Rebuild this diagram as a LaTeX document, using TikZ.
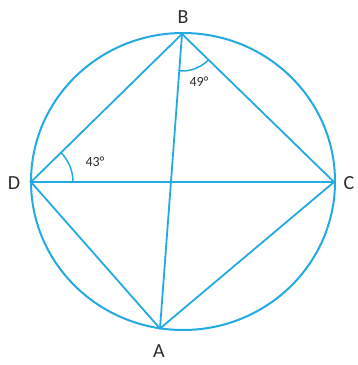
\documentclass[tikz,border=0pt]{standalone}
\usepackage{fontspec}
\setmainfont{Carlito}
\usetikzlibrary{calc}
\definecolor{geo}{RGB}{36,170,226}
\definecolor{lbl}{RGB}{45,45,45}
\begin{document}
\begin{tikzpicture}[x=1pt,y=-1pt,
  geoline/.style={draw=geo,line width=1.8pt},
  ptlabel/.style={text=lbl,font=\fontsize{20}{20}\selectfont,inner sep=0pt},
  anglabel/.style={text=lbl,font=\fontsize{14}{14}\selectfont,inner sep=0pt}]
\useasboundingbox (0,0) rectangle (357,365);
\coordinate (O) at (183,181.5);
\coordinate (B) at (182,34);
\coordinate (D) at (31,182);
\coordinate (C) at (334,182);
\coordinate (A) at (160,328.5);
\draw[geoline,line width=2pt] (O) ellipse [x radius=152, y radius=148.5];
\draw[geoline] (D) -- (B) -- (C) -- (A) -- (D) -- (C);
\draw[geoline] (B) -- (A);
% angle arcs
\draw[geoline,line width=1.5pt] ($(B)!37pt!(A)$) arc [start angle=94.3, end angle=44.2, radius=37];
\draw[geoline,line width=1.5pt] ($(D)!42pt!(C)$) arc [start angle=0, end angle=-44.4, radius=42];
\node[ptlabel] (lB) at (183,17) {B};
\node[ptlabel] (lD) at (14,183) {D};
\node[ptlabel] (lC) at (349,183) {C};
\node[ptlabel] (lA) at (159,351) {A};
\node[anglabel] (a43) at (95,162) {43°};
\node[anglabel] (a49) at (199,82) {49°};
\end{tikzpicture}
\end{document}
